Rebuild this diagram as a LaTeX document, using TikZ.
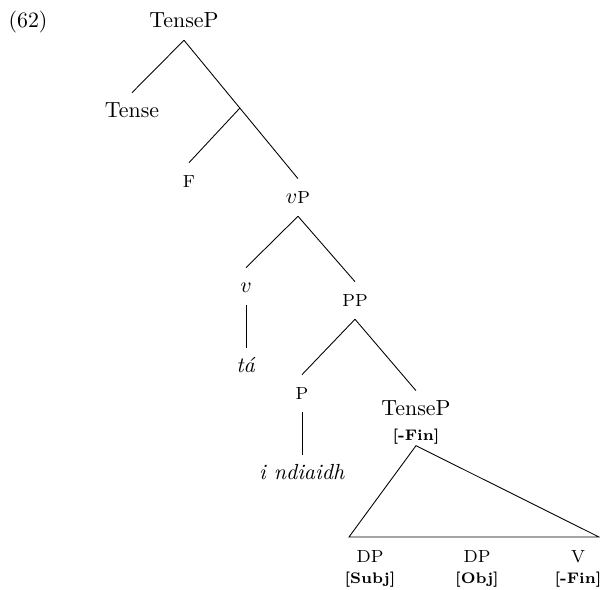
\documentclass[tikz,border=0pt]{standalone}
\usepackage{fontspec}
\usepackage{tikz}
\usetikzlibrary{positioning, calc}
\newcommand{\smcat}[1]{{\footnotesize #1}}

\begin{document}
\begin{tikzpicture}[x=0.01606cm, y=-0.01606cm,
    cat/.style={inner sep=0pt, anchor=base, text height=0.40cm, text depth=0.19cm},
    feat/.style={inner sep=0pt, anchor=base, font=\scriptsize\bfseries, text depth=0.08cm}
]
\useasboundingbox (0,0) rectangle (600,590);

% Example number
\node[inner sep=0pt, anchor=base] (exnum) at (28,28) {(62)};

% Upper part of the tree
\node[cat] (root) at (184,28) {TenseP};
\node[cat] (tense) at (132,118) {Tense};
\node[cat] (f) at (189,188) {\smcat{F}};
\node[cat] (vp) at (298,204) {$v$\smcat{P}};

% Branching point between root and vP
\coordinate (bar) at ($(root.south)!0.49!(vp.north)$);

\draw (root.south) -- (tense.north);
\draw (root.south) -- (vp.north);
\draw (bar) -- (f.north);

% vP and below
\node[cat] (v) at (246,293) {$v$};
\node[cat] (pp) at (355,307) {\smcat{PP}};
\node[cat] (ta) at (246,373) {\textit{tá}};
\node[cat] (p) at (302,400) {\smcat{P}};
\node[cat] (tenseb) at (416,416) {TenseP};
\node[feat] (tfin) at ([yshift=-0.39cm]tenseb.base) {[-Fin]};
\node[cat] (ndiaidh) at (302,480) {\textit{i ndiaidh}};

\draw (vp.south) -- (v.north);
\draw (vp.south) -- (pp.north);
\draw (v.south) -- (ta.north);
\draw (pp.south) -- (p.north);
\draw (pp.south) -- (tenseb.north);
\draw (p.south) -- (ndiaidh.north);

% Triangle over the embedded clause
\coordinate (triL) at (349,537);
\coordinate (triR) at (599,537);
\draw (tfin.south) -- (triL) -- (triR) -- cycle;

% Labels under the triangle
\foreach \x/\lab/\feat [count=\i] in {370/DP/Subj, 477/DP/Obj, 578/V/-Fin} {
    \node[cat] (bot\i) at (\x,563) {\smcat{\lab}};
    \node[feat] (botf\i) at (\x,584) {[\feat]};
}

\end{tikzpicture}
\end{document}
